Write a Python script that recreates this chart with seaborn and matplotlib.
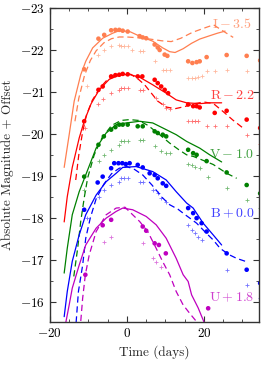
import matplotlib
matplotlib.use("Agg")
import matplotlib.pyplot as plt
from matplotlib.ticker import MultipleLocator
import pandas as pd
import seaborn as sns

# ---- data (magnitudes already include the band offsets) ----
band_names = ["I", "R", "V", "B", "U"]
band_labels = [r"$\mathrm{I}-3.5$", r"$\mathrm{R}-2.2$", r"$\mathrm{V}-1.0$",
               r"$\mathrm{B}+0.0$", r"$\mathrm{U}+1.8$"]
band_colors = ["coral", "red", "green", "blue", "m"]
label_y = [-22.62, -20.91, -19.50, -18.11, -16.10]

# I band
i_obs_t = [-11.1, -7.4, -5.9, -4.1, -3.0, -2.0, -1.1, 0.2, 3.3, 4.1, 5.0, 7.2, 8.0, 8.5, 9.8, 10.5,
           15.9, 17.0, 18.1, 18.9, 20.7, 25.9, 31.1, 34.6]
i_obs_m = [-21.54, -22.27, -22.36, -22.47, -22.48, -22.48, -22.46, -22.44, -22.33, -22.30, -22.28,
           -22.13, -22.06, -22.0, -21.89, -21.86, -21.73, -21.69, -21.71, -21.73, -21.83, -21.88,
           -21.86, -21.75]
i_alt_t = [-10.4, -7.4, -5.9, -4.1, -2.0, -1.5, -0.7, 0.2, 1.4, 3.4, 4.3, 7.2, 9.3, 10.2, 11.1,
           15.9, 16.8, 17.6, 18.5, 19.4, 20.7, 22.8, 25.9, 31.1]
i_alt_m = [-21.13, -21.89, -22.0, -22.10, -22.13, -22.09, -22.09, -22.09, -22.0, -21.97, -21.97,
           -21.74, -21.53, -21.52, -21.52, -21.34, -21.34, -21.34, -21.35, -21.37, -21.50, -21.50,
           -21.52, -21.50]
i_mod_t = [-16.3, -15.0, -13.7, -12.0, -10.7, -8.9, -6.3, -3.7, -2.0, 0.7, 3.3, 6.7, 9.3, 11.1,
           12.5, 14.6, 16.8, 18.9, 21.5, 23.5, 25.5]
i_mod_m = [-19.2, -19.98, -20.78, -21.41, -21.73, -22.05, -22.28, -22.40, -22.46, -22.44, -22.33,
           -22.21, -22.05, -21.96, -21.94, -22.03, -22.16, -22.26, -22.34, -22.40, -22.45]
i_alt_mod_t = [-13.5, -12.5, -11.0, -9.5, -8.0, -6.0, -4.0, -2.0, 0.0, 3.0, 6.0, 9.0, 11.5, 14.0,
               17.0, 20.0, 22.5, 25.0, 27.6]
i_alt_mod_m = [-20.3, -20.85, -21.4, -21.75, -21.98, -22.17, -22.27, -22.31, -22.31, -22.29,
               -22.26, -22.22, -22.2, -22.28, -22.42, -22.52, -22.6, -22.45, -22.3]

# R band
r_obs_t = [-11.1, -7.4, -6.3, -4.1, -3.0, -2.0, -1.1, 0.2, 2.8, 4.0, 7.2, 8.0, 8.9, 9.8, 10.7,
           15.9, 17.2, 18.1, 18.9, 22.8, 25.9, 31.1, 34.6]
r_obs_m = [-20.30, -21.05, -21.13, -21.37, -21.40, -21.41, -21.43, -21.42, -21.37, -21.37, -21.29,
           -21.21, -21.13, -21.05, -20.97, -20.70, -20.66, -20.66, -20.63, -20.50, -20.55, -20.34,
           -20.14]
r_alt_t = [-11.0, -7.4, -6.3, -4.1, -2.0, -1.5, -0.7, 0.2, 3.3, 4.1, 7.6, 9.3, 10.2, 11.1, 15.9,
           16.8, 17.6, 18.5, 20.7, 22.8, 25.9, 31.1, 34.6]
r_alt_m = [-20.15, -20.70, -20.84, -20.97, -21.05, -21.09, -21.09, -21.09, -21.05, -21.05, -20.86,
           -20.70, -20.62, -20.59, -20.31, -20.30, -20.30, -20.30, -20.18, -20.18, -20.18, -19.98,
           -19.76]
r_mod_t = [-16.3, -15.5, -14.2, -12.4, -11.1, -9.3, -7.2, -4.6, -2.0, 0.5, 3.3, 6.7, 10.2, 12.8,
           15.5, 18.9, 21.5, 24.6]
r_mod_m = [-17.9, -18.5, -19.2, -19.9, -20.3, -20.72, -21.05, -21.3, -21.4, -21.42, -21.35, -21.17,
           -20.97, -20.81, -20.74, -20.72, -20.74, -20.74]
r_alt_mod_t = [-13.3, -12.5, -11.5, -10.5, -9.0, -7.0, -5.0, -3.0, -1.0, 1.0, 3.0, 4.6, 6.7, 8.0,
               10.2, 12.5, 15.0, 17.5, 20.0, 22.5, 25.0, 27.5, 30.0]
r_alt_mod_m = [-18.9, -19.5, -20.05, -20.45, -20.8, -21.1, -21.3, -21.4, -21.43, -21.42, -21.3,
               -21.17, -20.93, -20.78, -20.64, -20.6, -20.65, -20.72, -20.76, -20.72, -20.53,
               -20.33, -20.15]

# V band
v_obs_t = [-11.1, -7.4, -6.0, -4.1, -3.0, -2.0, -1.1, 0.2, 2.8, 4.1, 7.2, 8.0, 9.3, 10.2, 15.9,
           17.2, 18.1, 20.7, 25.9, 31.1, 34.6]
v_obs_m = [-18.98, -19.74, -19.94, -20.10, -20.16, -20.22, -20.22, -20.22, -20.18, -20.18, -20.06,
           -20.02, -19.98, -19.94, -19.62, -19.54, -19.50, -19.35, -19.08, -18.78, -18.58]
v_alt_t = [-11.1, -7.2, -5.9, -4.1, -2.0, -1.5, -0.7, 0.2, 3.3, 4.1, 7.2, 8.9, 10.2, 11.1, 15.9,
           16.8, 17.6, 18.9, 21.0, 25.9, 31.1, 34.6]
v_alt_m = [-18.66, -19.35, -19.50, -19.62, -19.74, -19.82, -19.82, -19.82, -19.86, -19.86, -19.70,
           -19.58, -19.54, -19.54, -19.27, -19.26, -19.22, -19.18, -18.98, -18.70, -18.42, -18.23]
v_mod_t = [-16.3, -15.5, -14.2, -12.4, -10.7, -8.0, -5.4, -2.8, -0.2, 3.3, 6.7, 10.2, 12.8, 15.5,
           18.9, 21.5, 24.6]
v_mod_m = [-16.68, -17.27, -18.07, -18.62, -19.02, -19.66, -20.02, -20.22, -20.26, -20.30, -20.26,
           -20.10, -19.98, -19.82, -19.66, -19.50, -19.33]
v_alt_mod_t = [-13.8, -12.8, -12.0, -11.1, -10.2, -8.5, -6.5, -4.0, -1.5, 0.7, 3.0, 5.5, 8.5, 11.1,
               13.5, 15.5, 17.3, 20.0, 22.4, 25.9, 28.5]
v_alt_mod_m = [-16.6, -17.27, -17.91, -18.47, -18.95, -19.5, -19.9, -20.2, -20.32, -20.34, -20.32,
               -20.2, -19.98, -19.78, -19.62, -19.50, -19.46, -19.36, -19.27, -19.06, -18.94]

# B band
b_obs_t = [-11.1, -7.6, -6.3, -4.1, -3.3, -2.2, -1.2, -0.3, 0.7, 2.8, 4.1, 5.9, 7.2, 8.0, 9.3, 10.2,
           15.9, 17.2, 18.1, 19.4, 20.7, 25.9, 31.1, 34.6]
b_obs_m = [-18.19, -18.84, -18.98, -19.18, -19.30, -19.30, -19.30, -19.28, -19.30, -19.26, -19.20,
           -19.06, -19.02, -18.94, -18.82, -18.76, -18.23, -18.11, -17.99, -17.87, -17.67, -17.15,
           -16.76, -16.44]
b_alt_t = [-10.4, -7.2, -5.9, -4.1, -2.0, -1.5, -0.7, 0.2, 3.3, 4.1, 6.7, 8.0, 8.9, 10.2, 15.9,
           16.8, 17.6, 18.5, 19.4, 25.9, 31.1, 34.6]
b_alt_m = [-18.0, -18.50, -18.66, -18.78, -18.86, -18.94, -18.94, -18.94, -18.86, -18.86, -18.66,
           -18.58, -18.47, -18.38, -17.83, -17.71, -17.63, -17.55, -17.47, -16.76, -16.40, -16.08]
b_mod_t = [-16.3, -15.5, -14.2, -12.4, -10.7, -8.0, -5.4, -2.8, -1.1, 2.4, 6.7, 10.2, 12.8, 15.5,
           17.2, 19.8, 22.4, 24.6]
b_mod_m = [-15.64, -16.24, -16.96, -17.59, -18.07, -18.54, -18.86, -19.06, -19.2, -19.22, -19.10,
           -18.90, -18.62, -18.35, -18.23, -17.87, -17.59, -17.35]
b_alt_mod_t = [-13.2, -12.6, -11.5, -10.7, -9.5, -8.0, -6.0, -4.0, -2.0, 0.0, 2.0, 4.1, 6.5, 9.3,
               11.1, 13.3, 15.0, 18.1, 20.2, 22.4, 24.2, 26.5, 28.5, 31.1]
b_alt_mod_m = [-15.5, -16.24, -16.87, -17.51, -18.0, -18.45, -18.8, -19.05, -19.18, -19.22,
               -19.15, -19.02, -18.78, -18.47, -18.31, -18.2, -18.08, -17.87, -17.67, -17.47,
               -17.27, -17.12, -17.03, -16.95]

# U band
u_obs_t = [-10.8, -6.3, -4.1, 4.1, 5.0, 7.2, 8.3, 10.1, 21.1]
u_obs_m = [-16.64, -17.82, -17.95, -17.79, -17.69, -17.39, -17.35, -17.15, -15.84]
u_alt_t = [-5.9, -4.1, 4.1, 6.7, 7.6, 8.9]
u_alt_m = [-17.43, -17.55, -17.39, -17.03, -16.95, -16.83]
u_mod_t = [-16.3, -15.0, -14.2, -12.4, -10.7, -8.0, -5.4, -2.8, -1.1, 1.5, 5.0, 7.6, 10.2, 12.8,
           14.6, 15.9, 16.8, 18.5, 20.3]
u_mod_m = [-15.3, -15.92, -16.32, -16.87, -17.35, -17.75, -17.99, -18.15, -18.23, -18.19, -18.03,
           -17.83, -17.51, -17.03, -16.64, -16.48, -16.16, -15.85, -15.45]
u_alt_mod_t = [-12.2, -11.5, -10.8, -9.8, -8.0, -5.4, -2.8, -0.5, 1.5, 3.3, 5.4, 7.6, 9.3, 11.1,
               12.8, 14.6, 16.3, 18.1, 18.6]
u_alt_mod_m = [-15.3, -16.08, -16.64, -17.11, -17.67, -18.07, -18.23, -18.25, -18.07, -17.91,
               -17.67, -17.27, -16.95, -16.64, -16.24, -15.92, -15.72, -15.52, -15.45]

obs = [(i_obs_t, i_obs_m), (r_obs_t, r_obs_m), (v_obs_t, v_obs_m), (b_obs_t, b_obs_m), (u_obs_t, u_obs_m)]
alt = [(i_alt_t, i_alt_m), (r_alt_t, r_alt_m), (v_alt_t, v_alt_m), (b_alt_t, b_alt_m), (u_alt_t, u_alt_m)]
mod = [(i_mod_t, i_mod_m), (r_mod_t, r_mod_m), (v_mod_t, v_mod_m), (b_mod_t, b_mod_m), (u_mod_t, u_mod_m)]
alt_mod = [(i_alt_mod_t, i_alt_mod_m), (r_alt_mod_t, r_alt_mod_m), (v_alt_mod_t, v_alt_mod_m),
           (b_alt_mod_t, b_alt_mod_m), (u_alt_mod_t, u_alt_mod_m)]

sns.set_style("ticks")
plt.rcParams["font.family"] = "cmr10"
plt.rcParams["mathtext.fontset"] = "cm"
plt.rcParams["axes.formatter.use_mathtext"] = True
plt.rcParams["font.size"] = 9.5

fig, ax = plt.subplots(figsize=(2.67, 3.66), dpi=100)
fig.subplots_adjust(left=0.187, right=0.970, top=0.978, bottom=0.121)

for k, name in enumerate(band_names):
    col = band_colors[k]
    d = pd.DataFrame({"t": mod[k][0], "m": mod[k][1]})
    sns.lineplot(data=d, x="t", y="m", color=col, lw=0.9, sort=False, ax=ax)
    d = pd.DataFrame({"t": alt_mod[k][0], "m": alt_mod[k][1]})
    sns.lineplot(data=d, x="t", y="m", color=col, lw=0.9, sort=False, ax=ax, dashes=False,
                 linestyle=(0, (5, 3)))
    d = pd.DataFrame({"t": obs[k][0], "m": obs[k][1]})
    sns.scatterplot(data=d, x="t", y="m", color=col, s=11, marker="o", edgecolor="none", ax=ax)
    d = pd.DataFrame({"t": alt[k][0], "m": alt[k][1]})
    sns.scatterplot(data=d, x="t", y="m", color=col, s=6, marker="+", linewidth=0.6,
                    alpha=0.55, ax=ax)
    ax.text(27.3, label_y[k], band_labels[k], color=col, alpha=0.75, fontsize=10,
            ha="center", va="center")

ax.set_xlim(-20, 34.3)
ax.set_ylim(-15.52, -23)
ax.xaxis.set_major_locator(MultipleLocator(20))
ax.xaxis.set_minor_locator(MultipleLocator(5))
ax.yaxis.set_major_locator(MultipleLocator(1))
ax.yaxis.set_minor_locator(MultipleLocator(0.5))
ax.tick_params(which="both", direction="in", top=True, right=True, colors="#333333",
               labelcolor="black")
ax.tick_params(which="major", length=4, width=0.8)
ax.tick_params(which="minor", length=2.5, width=0.6)
for sp in ax.spines.values():
    sp.set_color("#333333")
    sp.set_linewidth(1.0)
ax.set_xlabel("Time (days)")
ax.set_ylabel("Absolute Magnitude + Offset")

fig.savefig("out.png", dpi=100)
